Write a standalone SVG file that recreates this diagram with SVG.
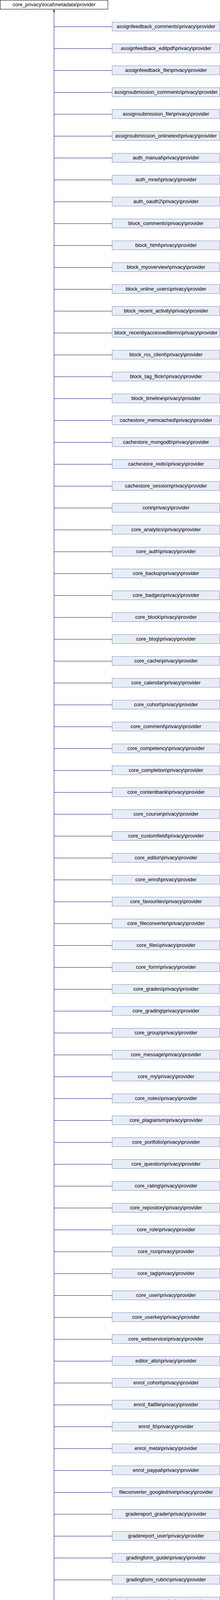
<svg xmlns="http://www.w3.org/2000/svg" width="564" height="7752" viewBox="0 0 564 7752">
<style>
.bg{fill:#ffffff}
.root rect{fill:#ffffff;stroke:#000000;stroke-width:1}
.n rect{fill:#e8ecf5;stroke:#7b8fca;stroke-width:1}
text{font-family:"Liberation Sans",Arial,Helvetica,sans-serif;font-size:13px;fill:#000000;text-anchor:middle}
.e path{fill:none;stroke:#191970;stroke-width:1}
</style>
<defs>
<marker id="ah" markerUnits="userSpaceOnUse" markerWidth="6" markerHeight="6" refX="0" refY="2.5" orient="auto"><path d="M0,0 L5,2.5 L0,5 z" fill="#191970" stroke="#191970" stroke-width="0.5"/></marker>
</defs>
<rect class="bg" x="0" y="0" width="564" height="7752"/>
<g id="edges" class="e">
<path d="M138.5,7740.5 V29.5" marker-end="url(#ah)"/>
<path d="M138.5,68.5H287"/><path d="M138.5,124.5H287"/><path d="M138.5,180.5H287"/><path d="M138.5,236.5H287"/><path d="M138.5,292.5H287"/><path d="M138.5,348.5H287"/><path d="M138.5,404.5H287"/><path d="M138.5,460.5H287"/><path d="M138.5,516.5H287"/><path d="M138.5,572.5H287"/>
<path d="M138.5,628.5H287"/><path d="M138.5,684.5H287"/><path d="M138.5,740.5H287"/><path d="M138.5,796.5H287"/><path d="M138.5,852.5H287"/><path d="M138.5,908.5H287"/><path d="M138.5,964.5H287"/><path d="M138.5,1020.5H287"/><path d="M138.5,1076.5H287"/><path d="M138.5,1132.5H287"/>
<path d="M138.5,1188.5H287"/><path d="M138.5,1244.5H287"/><path d="M138.5,1300.5H287"/><path d="M138.5,1356.5H287"/><path d="M138.5,1412.5H287"/><path d="M138.5,1468.5H287"/><path d="M138.5,1524.5H287"/><path d="M138.5,1580.5H287"/><path d="M138.5,1636.5H287"/><path d="M138.5,1692.5H287"/>
<path d="M138.5,1748.5H287"/><path d="M138.5,1804.5H287"/><path d="M138.5,1860.5H287"/><path d="M138.5,1916.5H287"/><path d="M138.5,1972.5H287"/><path d="M138.5,2028.5H287"/><path d="M138.5,2084.5H287"/><path d="M138.5,2140.5H287"/><path d="M138.5,2196.5H287"/><path d="M138.5,2252.5H287"/>
<path d="M138.5,2308.5H287"/><path d="M138.5,2364.5H287"/><path d="M138.5,2420.5H287"/><path d="M138.5,2476.5H287"/><path d="M138.5,2532.5H287"/><path d="M138.5,2588.5H287"/><path d="M138.5,2644.5H287"/><path d="M138.5,2700.5H287"/><path d="M138.5,2756.5H287"/><path d="M138.5,2812.5H287"/>
<path d="M138.5,2868.5H287"/><path d="M138.5,2924.5H287"/><path d="M138.5,2980.5H287"/><path d="M138.5,3036.5H287"/><path d="M138.5,3092.5H287"/><path d="M138.5,3148.5H287"/><path d="M138.5,3204.5H287"/><path d="M138.5,3260.5H287"/><path d="M138.5,3316.5H287"/><path d="M138.5,3372.5H287"/>
<path d="M138.5,3428.5H287"/><path d="M138.5,3484.5H287"/><path d="M138.5,3540.5H287"/><path d="M138.5,3596.5H287"/><path d="M138.5,3652.5H287"/><path d="M138.5,3708.5H287"/><path d="M138.5,3764.5H287"/><path d="M138.5,3820.5H287"/><path d="M138.5,3876.5H287"/><path d="M138.5,3932.5H287"/>
<path d="M138.5,3988.5H287"/><path d="M138.5,4044.5H287"/><path d="M138.5,4100.5H287"/><path d="M138.5,4156.5H287"/><path d="M138.5,4212.5H287"/><path d="M138.5,4268.5H287"/><path d="M138.5,4324.5H287"/><path d="M138.5,4380.5H287"/><path d="M138.5,4436.5H287"/><path d="M138.5,4492.5H287"/>
<path d="M138.5,4548.5H287"/><path d="M138.5,4604.5H287"/><path d="M138.5,4660.5H287"/><path d="M138.5,4716.5H287"/><path d="M138.5,4772.5H287"/><path d="M138.5,4828.5H287"/><path d="M138.5,4884.5H287"/><path d="M138.5,4940.5H287"/><path d="M138.5,4996.5H287"/><path d="M138.5,5052.5H287"/>
<path d="M138.5,5108.5H287"/><path d="M138.5,5164.5H287"/><path d="M138.5,5220.5H287"/><path d="M138.5,5276.5H287"/><path d="M138.5,5332.5H287"/><path d="M138.5,5388.5H287"/><path d="M138.5,5444.5H287"/><path d="M138.5,5500.5H287"/><path d="M138.5,5556.5H287"/><path d="M138.5,5612.5H287"/>
<path d="M138.5,5668.5H287"/><path d="M138.5,5724.5H287"/><path d="M138.5,5780.5H287"/><path d="M138.5,5836.5H287"/><path d="M138.5,5892.5H287"/><path d="M138.5,5948.5H287"/><path d="M138.5,6004.5H287"/><path d="M138.5,6060.5H287"/><path d="M138.5,6116.5H287"/><path d="M138.5,6172.5H287"/>
<path d="M138.5,6228.5H287"/><path d="M138.5,6284.5H287"/><path d="M138.5,6340.5H287"/><path d="M138.5,6396.5H287"/><path d="M138.5,6452.5H287"/><path d="M138.5,6508.5H287"/><path d="M138.5,6564.5H287"/><path d="M138.5,6620.5H287"/><path d="M138.5,6676.5H287"/><path d="M138.5,6732.5H287"/>
<path d="M138.5,6788.5H287"/><path d="M138.5,6844.5H287"/><path d="M138.5,6900.5H287"/><path d="M138.5,6956.5H287"/><path d="M138.5,7012.5H287"/><path d="M138.5,7068.5H287"/><path d="M138.5,7124.5H287"/><path d="M138.5,7180.5H287"/><path d="M138.5,7236.5H287"/><path d="M138.5,7292.5H287"/>
<path d="M138.5,7348.5H287"/><path d="M138.5,7404.5H287"/><path d="M138.5,7460.5H287"/><path d="M138.5,7516.5H287"/><path d="M138.5,7572.5H287"/><path d="M138.5,7628.5H287"/><path d="M138.5,7684.5H287"/><path d="M138.5,7740.5H287"/>
</g>
<g id="root" class="root"><rect x="0.5" y="0.5" width="276" height="23"/><text x="138.5" y="16">core_privacy\local\metadata\provider</text></g>
<g id="n1" class="n" transform="translate(0,56)"><rect x="287.5" y="0.5" width="276" height="23"/><text x="425.5" y="16">assignfeedback_comments\privacy\provider</text></g>
<g id="n2" class="n" transform="translate(0,112)"><rect x="287.5" y="0.5" width="276" height="23"/><text x="425.5" y="16">assignfeedback_editpdf\privacy\provider</text></g>
<g id="n3" class="n" transform="translate(0,168)"><rect x="287.5" y="0.5" width="276" height="23"/><text x="425.5" y="16">assignfeedback_file\privacy\provider</text></g>
<g id="n4" class="n" transform="translate(0,224)"><rect x="287.5" y="0.5" width="276" height="23"/><text x="425.5" y="16">assignsubmission_comments\privacy\provider</text></g>
<g id="n5" class="n" transform="translate(0,280)"><rect x="287.5" y="0.5" width="276" height="23"/><text x="425.5" y="16">assignsubmission_file\privacy\provider</text></g>
<g id="n6" class="n" transform="translate(0,336)"><rect x="287.5" y="0.5" width="276" height="23"/><text x="425.5" y="16">assignsubmission_onlinetext\privacy\provider</text></g>
<g id="n7" class="n" transform="translate(0,392)"><rect x="287.5" y="0.5" width="276" height="23"/><text x="425.5" y="16">auth_manual\privacy\provider</text></g>
<g id="n8" class="n" transform="translate(0,448)"><rect x="287.5" y="0.5" width="276" height="23"/><text x="425.5" y="16">auth_mnet\privacy\provider</text></g>
<g id="n9" class="n" transform="translate(0,504)"><rect x="287.5" y="0.5" width="276" height="23"/><text x="425.5" y="16">auth_oauth2\privacy\provider</text></g>
<g id="n10" class="n" transform="translate(0,560)"><rect x="287.5" y="0.5" width="276" height="23"/><text x="425.5" y="16">block_comments\privacy\provider</text></g>
<g id="n11" class="n" transform="translate(0,616)"><rect x="287.5" y="0.5" width="276" height="23"/><text x="425.5" y="16">block_html\privacy\provider</text></g>
<g id="n12" class="n" transform="translate(0,672)"><rect x="287.5" y="0.5" width="276" height="23"/><text x="425.5" y="16">block_myoverview\privacy\provider</text></g>
<g id="n13" class="n" transform="translate(0,728)"><rect x="287.5" y="0.5" width="276" height="23"/><text x="425.5" y="16">block_online_users\privacy\provider</text></g>
<g id="n14" class="n" transform="translate(0,784)"><rect x="287.5" y="0.5" width="276" height="23"/><text x="425.5" y="16">block_recent_activity\privacy\provider</text></g>
<g id="n15" class="n" transform="translate(0,840)"><rect x="287.5" y="0.5" width="276" height="23"/><text x="425.5" y="16">block_recentlyaccesseditems\privacy\provider</text></g>
<g id="n16" class="n" transform="translate(0,896)"><rect x="287.5" y="0.5" width="276" height="23"/><text x="425.5" y="16">block_rss_client\privacy\provider</text></g>
<g id="n17" class="n" transform="translate(0,952)"><rect x="287.5" y="0.5" width="276" height="23"/><text x="425.5" y="16">block_tag_flickr\privacy\provider</text></g>
<g id="n18" class="n" transform="translate(0,1008)"><rect x="287.5" y="0.5" width="276" height="23"/><text x="425.5" y="16">block_timeline\privacy\provider</text></g>
<g id="n19" class="n" transform="translate(0,1064)"><rect x="287.5" y="0.5" width="276" height="23"/><text x="425.5" y="16">cachestore_memcached\privacy\provider</text></g>
<g id="n20" class="n" transform="translate(0,1120)"><rect x="287.5" y="0.5" width="276" height="23"/><text x="425.5" y="16">cachestore_mongodb\privacy\provider</text></g>
<g id="n21" class="n" transform="translate(0,1176)"><rect x="287.5" y="0.5" width="276" height="23"/><text x="425.5" y="16">cachestore_redis\privacy\provider</text></g>
<g id="n22" class="n" transform="translate(0,1232)"><rect x="287.5" y="0.5" width="276" height="23"/><text x="425.5" y="16">cachestore_session\privacy\provider</text></g>
<g id="n23" class="n" transform="translate(0,1288)"><rect x="287.5" y="0.5" width="276" height="23"/><text x="425.5" y="16">core\privacy\provider</text></g>
<g id="n24" class="n" transform="translate(0,1344)"><rect x="287.5" y="0.5" width="276" height="23"/><text x="425.5" y="16">core_analytics\privacy\provider</text></g>
<g id="n25" class="n" transform="translate(0,1400)"><rect x="287.5" y="0.5" width="276" height="23"/><text x="425.5" y="16">core_auth\privacy\provider</text></g>
<g id="n26" class="n" transform="translate(0,1456)"><rect x="287.5" y="0.5" width="276" height="23"/><text x="425.5" y="16">core_backup\privacy\provider</text></g>
<g id="n27" class="n" transform="translate(0,1512)"><rect x="287.5" y="0.5" width="276" height="23"/><text x="425.5" y="16">core_badges\privacy\provider</text></g>
<g id="n28" class="n" transform="translate(0,1568)"><rect x="287.5" y="0.5" width="276" height="23"/><text x="425.5" y="16">core_block\privacy\provider</text></g>
<g id="n29" class="n" transform="translate(0,1624)"><rect x="287.5" y="0.5" width="276" height="23"/><text x="425.5" y="16">core_blog\privacy\provider</text></g>
<g id="n30" class="n" transform="translate(0,1680)"><rect x="287.5" y="0.5" width="276" height="23"/><text x="425.5" y="16">core_cache\privacy\provider</text></g>
<g id="n31" class="n" transform="translate(0,1736)"><rect x="287.5" y="0.5" width="276" height="23"/><text x="425.5" y="16">core_calendar\privacy\provider</text></g>
<g id="n32" class="n" transform="translate(0,1792)"><rect x="287.5" y="0.5" width="276" height="23"/><text x="425.5" y="16">core_cohort\privacy\provider</text></g>
<g id="n33" class="n" transform="translate(0,1848)"><rect x="287.5" y="0.5" width="276" height="23"/><text x="425.5" y="16">core_comment\privacy\provider</text></g>
<g id="n34" class="n" transform="translate(0,1904)"><rect x="287.5" y="0.5" width="276" height="23"/><text x="425.5" y="16">core_competency\privacy\provider</text></g>
<g id="n35" class="n" transform="translate(0,1960)"><rect x="287.5" y="0.5" width="276" height="23"/><text x="425.5" y="16">core_completion\privacy\provider</text></g>
<g id="n36" class="n" transform="translate(0,2016)"><rect x="287.5" y="0.5" width="276" height="23"/><text x="425.5" y="16">core_contentbank\privacy\provider</text></g>
<g id="n37" class="n" transform="translate(0,2072)"><rect x="287.5" y="0.5" width="276" height="23"/><text x="425.5" y="16">core_course\privacy\provider</text></g>
<g id="n38" class="n" transform="translate(0,2128)"><rect x="287.5" y="0.5" width="276" height="23"/><text x="425.5" y="16">core_customfield\privacy\provider</text></g>
<g id="n39" class="n" transform="translate(0,2184)"><rect x="287.5" y="0.5" width="276" height="23"/><text x="425.5" y="16">core_editor\privacy\provider</text></g>
<g id="n40" class="n" transform="translate(0,2240)"><rect x="287.5" y="0.5" width="276" height="23"/><text x="425.5" y="16">core_enrol\privacy\provider</text></g>
<g id="n41" class="n" transform="translate(0,2296)"><rect x="287.5" y="0.5" width="276" height="23"/><text x="425.5" y="16">core_favourites\privacy\provider</text></g>
<g id="n42" class="n" transform="translate(0,2352)"><rect x="287.5" y="0.5" width="276" height="23"/><text x="425.5" y="16">core_fileconverter\privacy\provider</text></g>
<g id="n43" class="n" transform="translate(0,2408)"><rect x="287.5" y="0.5" width="276" height="23"/><text x="425.5" y="16">core_files\privacy\provider</text></g>
<g id="n44" class="n" transform="translate(0,2464)"><rect x="287.5" y="0.5" width="276" height="23"/><text x="425.5" y="16">core_form\privacy\provider</text></g>
<g id="n45" class="n" transform="translate(0,2520)"><rect x="287.5" y="0.5" width="276" height="23"/><text x="425.5" y="16">core_grades\privacy\provider</text></g>
<g id="n46" class="n" transform="translate(0,2576)"><rect x="287.5" y="0.5" width="276" height="23"/><text x="425.5" y="16">core_grading\privacy\provider</text></g>
<g id="n47" class="n" transform="translate(0,2632)"><rect x="287.5" y="0.5" width="276" height="23"/><text x="425.5" y="16">core_group\privacy\provider</text></g>
<g id="n48" class="n" transform="translate(0,2688)"><rect x="287.5" y="0.5" width="276" height="23"/><text x="425.5" y="16">core_message\privacy\provider</text></g>
<g id="n49" class="n" transform="translate(0,2744)"><rect x="287.5" y="0.5" width="276" height="23"/><text x="425.5" y="16">core_my\privacy\provider</text></g>
<g id="n50" class="n" transform="translate(0,2800)"><rect x="287.5" y="0.5" width="276" height="23"/><text x="425.5" y="16">core_notes\privacy\provider</text></g>
<g id="n51" class="n" transform="translate(0,2856)"><rect x="287.5" y="0.5" width="276" height="23"/><text x="425.5" y="16">core_plagiarism\privacy\provider</text></g>
<g id="n52" class="n" transform="translate(0,2912)"><rect x="287.5" y="0.5" width="276" height="23"/><text x="425.5" y="16">core_portfolio\privacy\provider</text></g>
<g id="n53" class="n" transform="translate(0,2968)"><rect x="287.5" y="0.5" width="276" height="23"/><text x="425.5" y="16">core_question\privacy\provider</text></g>
<g id="n54" class="n" transform="translate(0,3024)"><rect x="287.5" y="0.5" width="276" height="23"/><text x="425.5" y="16">core_rating\privacy\provider</text></g>
<g id="n55" class="n" transform="translate(0,3080)"><rect x="287.5" y="0.5" width="276" height="23"/><text x="425.5" y="16">core_repository\privacy\provider</text></g>
<g id="n56" class="n" transform="translate(0,3136)"><rect x="287.5" y="0.5" width="276" height="23"/><text x="425.5" y="16">core_role\privacy\provider</text></g>
<g id="n57" class="n" transform="translate(0,3192)"><rect x="287.5" y="0.5" width="276" height="23"/><text x="425.5" y="16">core_rss\privacy\provider</text></g>
<g id="n58" class="n" transform="translate(0,3248)"><rect x="287.5" y="0.5" width="276" height="23"/><text x="425.5" y="16">core_tag\privacy\provider</text></g>
<g id="n59" class="n" transform="translate(0,3304)"><rect x="287.5" y="0.5" width="276" height="23"/><text x="425.5" y="16">core_user\privacy\provider</text></g>
<g id="n60" class="n" transform="translate(0,3360)"><rect x="287.5" y="0.5" width="276" height="23"/><text x="425.5" y="16">core_userkey\privacy\provider</text></g>
<g id="n61" class="n" transform="translate(0,3416)"><rect x="287.5" y="0.5" width="276" height="23"/><text x="425.5" y="16">core_webservice\privacy\provider</text></g>
<g id="n62" class="n" transform="translate(0,3472)"><rect x="287.5" y="0.5" width="276" height="23"/><text x="425.5" y="16">editor_atto\privacy\provider</text></g>
<g id="n63" class="n" transform="translate(0,3528)"><rect x="287.5" y="0.5" width="276" height="23"/><text x="425.5" y="16">enrol_cohort\privacy\provider</text></g>
<g id="n64" class="n" transform="translate(0,3584)"><rect x="287.5" y="0.5" width="276" height="23"/><text x="425.5" y="16">enrol_flatfile\privacy\provider</text></g>
<g id="n65" class="n" transform="translate(0,3640)"><rect x="287.5" y="0.5" width="276" height="23"/><text x="425.5" y="16">enrol_lti\privacy\provider</text></g>
<g id="n66" class="n" transform="translate(0,3696)"><rect x="287.5" y="0.5" width="276" height="23"/><text x="425.5" y="16">enrol_meta\privacy\provider</text></g>
<g id="n67" class="n" transform="translate(0,3752)"><rect x="287.5" y="0.5" width="276" height="23"/><text x="425.5" y="16">enrol_paypal\privacy\provider</text></g>
<g id="n68" class="n" transform="translate(0,3808)"><rect x="287.5" y="0.5" width="276" height="23"/><text x="425.5" y="16">fileconverter_googledrive\privacy\provider</text></g>
<g id="n69" class="n" transform="translate(0,3864)"><rect x="287.5" y="0.5" width="276" height="23"/><text x="425.5" y="16">gradereport_grader\privacy\provider</text></g>
<g id="n70" class="n" transform="translate(0,3920)"><rect x="287.5" y="0.5" width="276" height="23"/><text x="425.5" y="16">gradereport_user\privacy\provider</text></g>
<g id="n71" class="n" transform="translate(0,3976)"><rect x="287.5" y="0.5" width="276" height="23"/><text x="425.5" y="16">gradingform_guide\privacy\provider</text></g>
<g id="n72" class="n" transform="translate(0,4032)"><rect x="287.5" y="0.5" width="276" height="23"/><text x="425.5" y="16">gradingform_rubric\privacy\provider</text></g>
<g id="n73" class="n" transform="translate(0,4088)"><rect x="287.5" y="0.5" width="276" height="23"/><text x="425.5" y="16">logstore_database\privacy\provider</text></g>
<g id="n74" class="n" transform="translate(0,4144)"><rect x="287.5" y="0.5" width="276" height="23"/><text x="425.5" y="16">logstore_legacy\privacy\provider</text></g>
<g id="n75" class="n" transform="translate(0,4200)"><rect x="287.5" y="0.5" width="276" height="23"/><text x="425.5" y="16">logstore_standard\privacy\provider</text></g>
<g id="n76" class="n" transform="translate(0,4256)"><rect x="287.5" y="0.5" width="276" height="23"/><text x="425.5" y="16">ltiservice_basicoutcomes\privacy\provider</text></g>
<g id="n77" class="n" transform="translate(0,4312)"><rect x="287.5" y="0.5" width="276" height="23"/><text x="425.5" y="16">ltiservice_gradebookservices\privacy\provider</text></g>
<g id="n78" class="n" transform="translate(0,4368)"><rect x="287.5" y="0.5" width="276" height="23"/><text x="425.5" y="16">ltiservice_memberships\privacy\provider</text></g>
<g id="n79" class="n" transform="translate(0,4424)"><rect x="287.5" y="0.5" width="276" height="23"/><text x="425.5" y="16">message_airnotifier\privacy\provider</text></g>
<g id="n80" class="n" transform="translate(0,4480)"><rect x="287.5" y="0.5" width="276" height="23"/><text x="425.5" y="16">message_email\privacy\provider</text></g>
<g id="n81" class="n" transform="translate(0,4536)"><rect x="287.5" y="0.5" width="276" height="23"/><text x="425.5" y="16">message_jabber\privacy\provider</text></g>
<g id="n82" class="n" transform="translate(0,4592)"><rect x="287.5" y="0.5" width="276" height="23"/><text x="425.5" y="16">mnetservice_enrol\privacy\provider</text></g>
<g id="n83" class="n" transform="translate(0,4648)"><rect x="287.5" y="0.5" width="276" height="23"/><text x="425.5" y="16">mod_assign\privacy\provider</text></g>
<g id="n84" class="n" transform="translate(0,4704)"><rect x="287.5" y="0.5" width="276" height="23"/><text x="425.5" y="16">mod_assignment\privacy\provider</text></g>
<g id="n85" class="n" transform="translate(0,4760)"><rect x="287.5" y="0.5" width="276" height="23"/><text x="425.5" y="16">mod_chat\privacy\provider</text></g>
<g id="n86" class="n" transform="translate(0,4816)"><rect x="287.5" y="0.5" width="276" height="23"/><text x="425.5" y="16">mod_choice\privacy\provider</text></g>
<g id="n87" class="n" transform="translate(0,4872)"><rect x="287.5" y="0.5" width="276" height="23"/><text x="425.5" y="16">mod_data\privacy\provider</text></g>
<g id="n88" class="n" transform="translate(0,4928)"><rect x="287.5" y="0.5" width="276" height="23"/><text x="425.5" y="16">mod_feedback\privacy\provider</text></g>
<g id="n89" class="n" transform="translate(0,4984)"><rect x="287.5" y="0.5" width="276" height="23"/><text x="425.5" y="16">mod_forum\privacy\provider</text></g>
<g id="n90" class="n" transform="translate(0,5040)"><rect x="287.5" y="0.5" width="276" height="23"/><text x="425.5" y="16">mod_glossary\privacy\provider</text></g>
<g id="n91" class="n" transform="translate(0,5096)"><rect x="287.5" y="0.5" width="276" height="23"/><text x="425.5" y="16">mod_h5pactivity\privacy\provider</text></g>
<g id="n92" class="n" transform="translate(0,5152)"><rect x="287.5" y="0.5" width="276" height="23"/><text x="425.5" y="16">mod_lesson\privacy\provider</text></g>
<g id="n93" class="n" transform="translate(0,5208)"><rect x="287.5" y="0.5" width="276" height="23"/><text x="425.5" y="16">mod_lti\privacy\provider</text></g>
<g id="n94" class="n" transform="translate(0,5264)"><rect x="287.5" y="0.5" width="276" height="23"/><text x="425.5" y="16">mod_quiz\privacy\provider</text></g>
<g id="n95" class="n" transform="translate(0,5320)"><rect x="287.5" y="0.5" width="276" height="23"/><text x="425.5" y="16">mod_scorm\privacy\provider</text></g>
<g id="n96" class="n" transform="translate(0,5376)"><rect x="287.5" y="0.5" width="276" height="23"/><text x="425.5" y="16">mod_survey\privacy\provider</text></g>
<g id="n97" class="n" transform="translate(0,5432)"><rect x="287.5" y="0.5" width="276" height="23"/><text x="425.5" y="16">mod_wiki\privacy\provider</text></g>
<g id="n98" class="n" transform="translate(0,5488)"><rect x="287.5" y="0.5" width="276" height="23"/><text x="425.5" y="16">mod_workshop\privacy\provider</text></g>
<g id="n99" class="n" transform="translate(0,5544)"><rect x="287.5" y="0.5" width="276" height="23"/><text x="425.5" y="16">portfolio_boxnet\privacy\provider</text></g>
<g id="n100" class="n" transform="translate(0,5600)"><rect x="287.5" y="0.5" width="276" height="23"/><text x="425.5" y="16">portfolio_flickr\privacy\provider</text></g>
<g id="n101" class="n" transform="translate(0,5656)"><rect x="287.5" y="0.5" width="276" height="23"/><text x="425.5" y="16">portfolio_googledocs\privacy\provider</text></g>
<g id="n102" class="n" transform="translate(0,5712)"><rect x="287.5" y="0.5" width="276" height="23"/><text x="425.5" y="16">portfolio_mahara\privacy\provider</text></g>
<g id="n103" class="n" transform="translate(0,5768)"><rect x="287.5" y="0.5" width="276" height="23"/><text x="425.5" y="16">portfolio_picasa\privacy\provider</text></g>
<g id="n104" class="n" transform="translate(0,5824)"><rect x="287.5" y="0.5" width="276" height="23"/><text x="425.5" y="16">profilefield_checkbox\privacy\provider</text></g>
<g id="n105" class="n" transform="translate(0,5880)"><rect x="287.5" y="0.5" width="276" height="23"/><text x="425.5" y="16">profilefield_datetime\privacy\provider</text></g>
<g id="n106" class="n" transform="translate(0,5936)"><rect x="287.5" y="0.5" width="276" height="23"/><text x="425.5" y="16">profilefield_menu\privacy\provider</text></g>
<g id="n107" class="n" transform="translate(0,5992)"><rect x="287.5" y="0.5" width="276" height="23"/><text x="425.5" y="16">profilefield_text\privacy\provider</text></g>
<g id="n108" class="n" transform="translate(0,6048)"><rect x="287.5" y="0.5" width="276" height="23"/><text x="425.5" y="16">profilefield_textarea\privacy\provider</text></g>
<g id="n109" class="n" transform="translate(0,6104)"><rect x="287.5" y="0.5" width="276" height="23"/><text x="425.5" y="16">quiz_grading\privacy\provider</text></g>
<g id="n110" class="n" transform="translate(0,6160)"><rect x="287.5" y="0.5" width="276" height="23"/><text x="425.5" y="16">quiz_overview\privacy\provider</text></g>
<g id="n111" class="n" transform="translate(0,6216)"><rect x="287.5" y="0.5" width="276" height="23"/><text x="425.5" y="16">quiz_responses\privacy\provider</text></g>
<g id="n112" class="n" transform="translate(0,6272)"><rect x="287.5" y="0.5" width="276" height="23"/><text x="425.5" y="16">quizaccess_seb\privacy\provider</text></g>
<g id="n113" class="n" transform="translate(0,6328)"><rect x="287.5" y="0.5" width="276" height="23"/><text x="425.5" y="16">report_stats\privacy\provider</text></g>
<g id="n114" class="n" transform="translate(0,6384)"><rect x="287.5" y="0.5" width="276" height="23"/><text x="425.5" y="16">repository_boxnet\privacy\provider</text></g>
<g id="n115" class="n" transform="translate(0,6440)"><rect x="287.5" y="0.5" width="276" height="23"/><text x="425.5" y="16">repository_dropbox\privacy\provider</text></g>
<g id="n116" class="n" transform="translate(0,6496)"><rect x="287.5" y="0.5" width="276" height="23"/><text x="425.5" y="16">repository_flickr\privacy\provider</text></g>
<g id="n117" class="n" transform="translate(0,6552)"><rect x="287.5" y="0.5" width="276" height="23"/><text x="425.5" y="16">repository_flickr_public\privacy\provider</text></g>
<g id="n118" class="n" transform="translate(0,6608)"><rect x="287.5" y="0.5" width="276" height="23"/><text x="425.5" y="16">repository_googledocs\privacy\provider</text></g>
<g id="n119" class="n" transform="translate(0,6664)"><rect x="287.5" y="0.5" width="276" height="23"/><text x="425.5" y="16">repository_merlot\privacy\provider</text></g>
<g id="n120" class="n" transform="translate(0,6720)"><rect x="287.5" y="0.5" width="276" height="23"/><text x="425.5" y="16">repository_onedrive\privacy\provider</text></g>
<g id="n121" class="n" transform="translate(0,6776)"><rect x="287.5" y="0.5" width="276" height="23"/><text x="425.5" y="16">repository_picasa\privacy\provider</text></g>
<g id="n122" class="n" transform="translate(0,6832)"><rect x="287.5" y="0.5" width="276" height="23"/><text x="425.5" y="16">repository_wikimedia\privacy\provider</text></g>
<g id="n123" class="n" transform="translate(0,6888)"><rect x="287.5" y="0.5" width="276" height="23"/><text x="425.5" y="16">repository_youtube\privacy\provider</text></g>
<g id="n124" class="n" transform="translate(0,6944)"><rect x="287.5" y="0.5" width="276" height="23"/><text x="425.5" y="16">scormreport_basic\privacy\provider</text></g>
<g id="n125" class="n" transform="translate(0,7000)"><rect x="287.5" y="0.5" width="276" height="23"/><text x="425.5" y="16">scormreport_interactions\privacy\provider</text></g>
<g id="n126" class="n" transform="translate(0,7056)"><rect x="287.5" y="0.5" width="276" height="23"/><text x="425.5" y="16">scormreport_objectives\privacy\provider</text></g>
<g id="n127" class="n" transform="translate(0,7112)"><rect x="287.5" y="0.5" width="276" height="23"/><text x="425.5" y="16">search_simpledb\privacy\provider</text></g>
<g id="n128" class="n" transform="translate(0,7168)"><rect x="287.5" y="0.5" width="276" height="23"/><text x="425.5" y="16">search_solr\privacy\provider</text></g>
<g id="n129" class="n" transform="translate(0,7224)"><rect x="287.5" y="0.5" width="276" height="23"/><text x="425.5" y="16">theme_boost\privacy\provider</text></g>
<g id="n130" class="n" transform="translate(0,7280)"><rect x="287.5" y="0.5" width="276" height="23"/><text x="425.5" y="16">tool_cohortroles\privacy\provider</text></g>
<g id="n131" class="n" transform="translate(0,7336)"><rect x="287.5" y="0.5" width="276" height="23"/><text x="425.5" y="16">tool_dataprivacy\privacy\provider</text></g>
<g id="n132" class="n" transform="translate(0,7392)"><rect x="287.5" y="0.5" width="276" height="23"/><text x="425.5" y="16">tool_log\privacy\provider</text></g>
<g id="n133" class="n" transform="translate(0,7448)"><rect x="287.5" y="0.5" width="276" height="23"/><text x="425.5" y="16">tool_messageinbound\privacy\provider</text></g>
<g id="n134" class="n" transform="translate(0,7504)"><rect x="287.5" y="0.5" width="276" height="23"/><text x="425.5" y="16">tool_mobile\privacy\provider</text></g>
<g id="n135" class="n" transform="translate(0,7560)"><rect x="287.5" y="0.5" width="276" height="23"/><text x="425.5" y="16">tool_monitor\privacy\provider</text></g>
<g id="n136" class="n" transform="translate(0,7616)"><rect x="287.5" y="0.5" width="276" height="23"/><text x="425.5" y="16">tool_policy\privacy\provider</text></g>
<g id="n137" class="n" transform="translate(0,7672)"><rect x="287.5" y="0.5" width="276" height="23"/><text x="425.5" y="16">tool_usertours\privacy\provider</text></g>
<g id="n138" class="n" transform="translate(0,7728)"><rect x="287.5" y="0.5" width="276" height="23"/><text x="425.5" y="16">workshopallocation_manual\privacy\provider</text></g>
</svg>
